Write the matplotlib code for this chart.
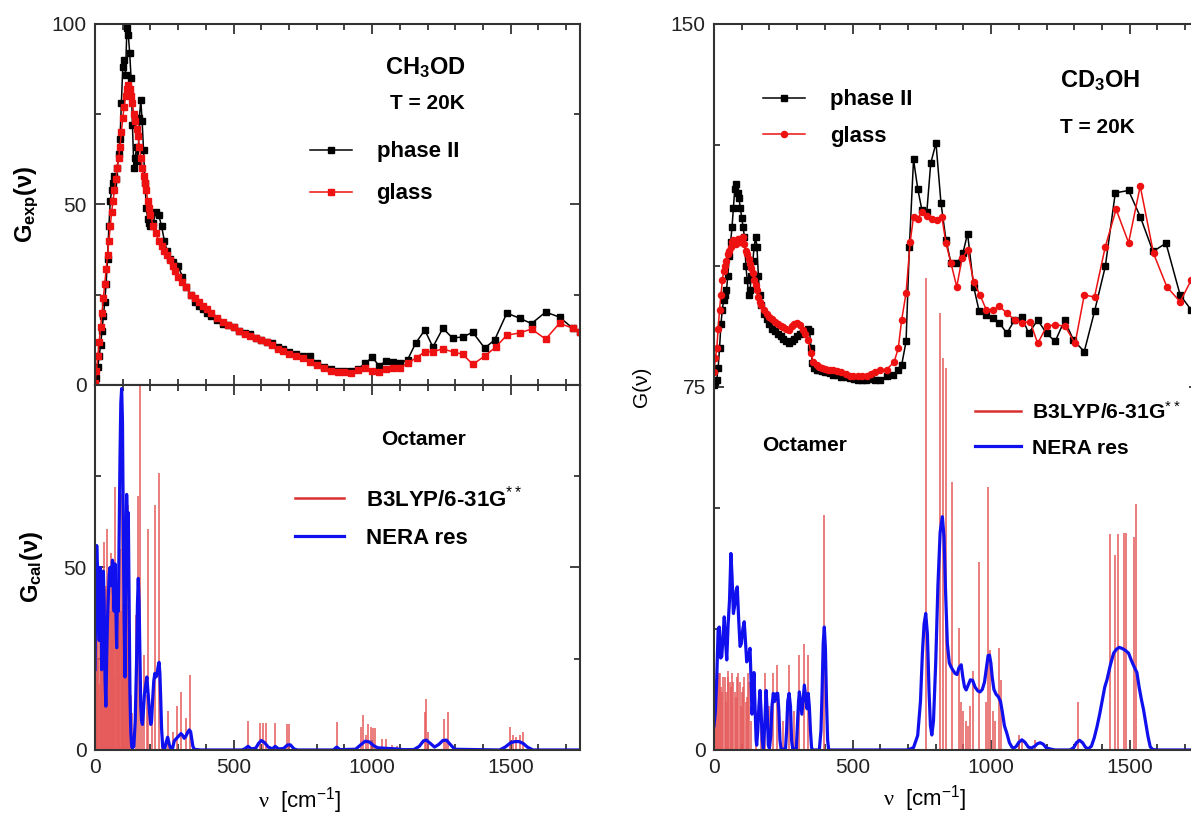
import matplotlib
matplotlib.use("Agg")
import matplotlib.pyplot as plt
from matplotlib.ticker import MultipleLocator, FixedLocator
from matplotlib.lines import Line2D

plt.rcParams['font.family'] = 'Liberation Sans'
plt.rcParams['mathtext.fontset'] = 'custom'
plt.rcParams['mathtext.rm'] = 'Liberation Sans'
plt.rcParams['mathtext.it'] = 'Liberation Sans:italic'
plt.rcParams['mathtext.bf'] = 'Liberation Sans:bold'
plt.rcParams['mathtext.sf'] = 'Liberation Serif'

# ---------------- CH3OD, experimental G(nu) ----------------
CH3OD_NU_PHASE2 = [0, 5, 10, 15, 20, 25, 30, 35, 40, 45, 50, 55, 60, 65, 70, 75, 80, 85, 90, 95,
                   100, 105, 110, 115, 120, 125, 130, 135, 140, 145, 150, 155, 160, 165, 170, 175,
                   180, 185, 190, 195, 200, 210, 220, 230, 240, 250, 260, 270, 280, 290, 300, 315,
                   330, 345, 360, 375, 390, 405, 420, 440, 460, 480, 500, 520, 540, 560, 580, 600,
                   620, 640, 660, 680, 700, 725, 750, 775, 800, 825, 850, 875, 900, 925, 950, 975,
                   1000, 1025, 1050, 1075, 1100, 1128, 1157, 1190, 1219, 1255, 1290, 1327, 1363,
                   1406, 1442, 1486, 1532, 1575, 1626, 1676, 1724, 1750]
CH3OD_G_PHASE2 = [0.5, 2, 5, 8, 11, 15, 19, 23, 28, 35, 44, 51, 54, 56, 58, 57, 60, 64, 68, 78,
                  88, 90, 86, 99, 97, 92, 85, 72, 60, 63, 66, 62, 74, 79, 73, 65,
                  56, 49, 46, 45, 44, 45, 48, 47, 44, 40, 37, 35, 34, 33, 33, 30,
                  27, 25, 23, 22, 21, 20, 19, 18, 17, 16.5, 16, 15, 14.5, 14, 13, 12.5,
                  12, 11.5, 10.5, 10, 9, 8.5, 8, 8, 6, 5, 4.5, 4, 4, 3.8, 4.5, 6,
                  7.7, 5.3, 6.6, 6.4, 6, 7, 11.6, 15.2, 10.5, 15.7, 13, 13.3, 14.6,
                  10.2, 12.5, 19.9, 18.5, 17, 20.2, 18.8, 15.7, 14.7]

CH3OD_NU_GLASS = [0, 5, 10, 15, 20, 25, 30, 35, 40, 45, 50, 55, 60, 65, 70, 75, 80, 85, 90, 95,
                  100, 105, 110, 115, 120, 125, 130, 135, 140, 145, 150, 155, 160, 165, 170, 175,
                  180, 185, 190, 195, 200, 210, 220, 230, 240, 250, 260, 270, 280, 290, 300, 315,
                  330, 345, 360, 375, 390, 405, 420, 440, 460, 480, 500, 520, 540, 560, 580, 600,
                  620, 640, 660, 680, 700, 725, 750, 775, 800, 825, 850, 875, 900, 925, 950, 975,
                  1000, 1025, 1050, 1075, 1100, 1128, 1160, 1190, 1219, 1255, 1294, 1327, 1363,
                  1406, 1446, 1486, 1532, 1575, 1626, 1676, 1724, 1750]
CH3OD_G_GLASS = [0.5, 4, 8, 12, 16, 20, 24, 28, 32, 36, 40, 44, 48, 51, 54, 57, 60, 63, 66, 70,
                 74, 77, 80, 82, 83, 82, 80, 78, 75, 73, 71, 69, 66, 63, 60, 58,
                 56, 54, 51, 49, 47, 44, 42, 40, 38.5, 37, 36, 34.5, 33, 31.5, 30, 28.5,
                 27, 25, 24, 23, 22, 21, 20, 18.5, 17.5, 16.5, 16, 15, 14, 13.5, 13, 12.5,
                 12, 11, 10, 9.5, 8.5, 8, 7.5, 6.5, 5.5, 4.6, 4, 3.7, 3.5, 3.2, 4.2, 4.8,
                 3.9, 3.7, 4.4, 4.8, 4.8, 6, 7.6, 9.2, 9.2, 10, 9.1, 8.5, 5.7,
                 8, 10.5, 13.8, 14.4, 15.5, 12.7, 17.1, 15.7, 14.7]

# ---------------- CH3OD, octamer calculation ----------------
CH3OD_STICK_NU = [3, 5, 8, 10, 12, 14, 17, 20, 22, 24, 26, 28, 31, 34, 36, 38, 40, 42, 44, 47,
                  50, 52, 54, 56, 58, 61, 63, 66, 68, 70, 73, 76, 78, 80, 82, 85, 87, 90, 93, 96,
                  98, 100, 102, 104, 106, 108, 110, 112, 114, 116, 118, 120, 122, 126, 128, 132,
                  148, 154, 162, 170, 176, 186, 192, 205, 216, 231, 240, 263, 280, 295, 311, 328,
                  344, 552, 596, 606, 617, 648, 692, 700, 872, 958, 968, 976, 986, 994, 1003,
                  1012, 1034, 1050, 1070, 1090, 1190, 1196, 1200, 1258, 1268, 1273, 1499, 1509,
                  1520, 1532, 1543]
CH3OD_STICK_G = [30, 20, 42, 35, 25, 18, 50, 32, 28, 38, 40, 22, 57, 30, 15, 44, 45, 33, 60.5, 36,
                 25, 42, 38, 30, 54, 45, 30, 40, 20, 48, 72, 35, 40, 28, 46, 35, 42, 55, 38, 70,
                 30, 30, 40, 45, 25, 52, 35, 69.6, 30, 20, 40, 67, 30, 25, 15, 10,
                 37, 69.6, 105, 10, 26, 15, 60.5, 12, 67, 76, 8, 10.6, 5, 12, 16, 8.7,
                 20.6, 8, 7.3, 7.3, 7.3, 7.3, 7, 7, 7.7, 6.3, 9.5, 4, 7, 6.3, 6,
                 6, 3, 3, 1.5, 1, 10.5, 14.1, 5, 8.4, 3, 10.5, 6.3, 4,
                 3.5, 4, 5]

CH3OD_NU_NERA = [0, 3, 6, 9, 12, 15, 18, 21, 24, 27, 30, 33, 36, 39, 42, 45, 48, 51, 54, 57,
                 60, 63, 66, 69, 72, 75, 78, 81, 84, 87, 90, 93, 96, 99, 102, 105, 108, 111,
                 114, 117, 120, 123, 126, 129, 132, 135, 140, 145, 150, 153, 156, 159, 162, 165,
                 168, 171, 174, 178, 183, 187, 190, 193, 197, 201, 204, 208, 212, 216, 220, 224,
                 228, 231, 234, 237, 240, 244, 247, 252, 256, 262, 268, 274, 280, 286, 292, 298,
                 304, 310, 316, 322, 328, 334, 340, 345, 349, 353, 358, 380, 530, 540, 552, 564,
                 580, 590, 600, 612, 625, 640, 650, 662, 680, 695, 705, 718, 730, 860, 872, 884,
                 940, 960, 975, 990, 1005, 1020, 1040, 1060, 1090, 1110, 1150, 1170, 1185, 1195,
                 1210, 1225, 1240, 1255, 1268, 1282, 1298, 1460, 1480, 1500, 1515, 1530, 1545,
                 1560, 1580, 1750]
CH3OD_G_NERA = [22, 45, 56, 50, 38, 30, 50, 44, 22, 30, 49, 40, 20, 12, 25, 36, 42, 48, 50, 45,
                49, 52, 44, 38, 51, 40, 28, 45, 38, 60, 80, 95, 99, 90, 60, 35, 20, 45,
                70, 60, 65, 40, 15, 5, 1, 0.5, 1, 8, 25, 40, 47, 40, 25, 12,
                8, 7, 10, 15, 18, 20, 17, 14, 10, 7, 8, 14, 19, 21, 20, 21,
                23, 24, 21, 14, 6, 1, 0.3, 0.5, 2, 3.5, 1.5, 0.3, 0.5, 2.5, 3, 3.5,
                4, 4.5, 4, 3.2, 3.8, 4.8, 5.5, 5, 3, 1, 0.2, 0, 0, 0.3, 1.0, 0.3,
                0.5, 1.8, 2.6, 2.0, 0.8, 0.3, 1.0, 0.3, 0.4, 1.4, 1.4, 0.3, 0, 0, 0.8, 0.1,
                0.2, 1.5, 2.4, 2.2, 1.2, 0.6, 0.5, 0.4, 0.3, 0.1, 0.1, 1, 2.5, 2.7,
                1.8, 0.8, 1.5, 2.6, 2.7, 1.5, 0.2, 0, 0.8, 2, 2.3, 2.3, 1.8,
                0.8, 0, 0]

# ---------------- CD3OH, experimental G(nu) ----------------
CD3OH_NU_PHASE2 = [0, 5, 10, 15, 20, 25, 30, 35, 40, 45, 50, 55, 60, 65, 70, 75, 80, 85, 90, 95,
                   100, 105, 110, 115, 120, 125, 130, 135, 140, 145, 150, 155, 160, 165, 170, 180,
                   190, 200, 210, 220, 230, 240, 250, 260, 270, 280, 290, 300, 310, 320, 330, 340,
                   345, 350, 355, 360, 370, 380, 390, 400, 410, 420, 430, 445, 460, 475, 490, 505,
                   520, 535, 550, 565, 580, 599, 623, 647, 665, 677, 693, 705, 720, 735, 750, 768,
                   782, 801, 819, 837, 855, 878, 898, 915, 937, 957, 982, 1006, 1030, 1057, 1084,
                   1111, 1135, 1168, 1200, 1231, 1265, 1297, 1336, 1373, 1412, 1448, 1496, 1538,
                   1584, 1631, 1682, 1722, 1750]
CD3OH_G_PHASE2 = [75.5, 76, 76.5, 79, 83, 88, 91, 93, 94, 95, 98, 102, 105, 108, 112, 116, 117, 115, 114, 112,
                  110, 108, 106, 100, 97, 94, 95, 98, 101, 104, 106, 104, 98, 94, 92, 90,
                  89, 88, 87, 86.5, 86, 85.5, 85, 84.5, 84, 84.5, 85, 85.5, 86, 86.5, 86.5, 87,
                  86.5, 83, 80, 79, 78.6, 78.5, 78.3, 78, 78, 77.8, 77.5, 77.5, 77, 77, 76.8, 76.6,
                  76.5, 76.5, 76.4, 76.6, 76.4, 76.4, 77.2, 77.5, 78.5, 79.5, 84.4, 104, 122, 116, 111.6, 111.2,
                  121.2, 125.4, 113, 105.4, 100.6, 100.6, 102.6, 106.7, 95.7, 90.6, 89.9, 89.2, 88.2, 86.1, 88.8,
                  89.5, 86.1, 88.8, 86.1, 84.4, 88.8, 84.7, 82.3, 90.6, 99.9, 115.1, 115.6, 110.2,
                  103, 104.7, 94, 90.9, 89]

CD3OH_NU_GLASS = [0, 5, 10, 15, 20, 25, 30, 35, 40, 45, 50, 55, 60, 65, 70, 75, 80, 85, 90, 95,
                  100, 105, 110, 115, 120, 125, 130, 135, 140, 145, 150, 155, 160, 165, 170, 180,
                  190, 200, 210, 220, 230, 240, 250, 260, 270, 280, 290, 300, 310, 320, 330, 340,
                  350, 358, 370, 380, 390, 400, 410, 420, 430, 445, 460, 475, 490, 503, 520, 535,
                  551, 565, 580, 599, 623, 650, 665, 677, 693, 708, 720, 735, 750, 768, 786, 804,
                  822, 837, 855, 876, 895, 915, 937, 960, 982, 1008, 1030, 1057, 1087, 1111, 1141,
                  1168, 1200, 1231, 1267, 1303, 1336, 1373, 1412, 1451, 1496, 1538, 1586, 1634,
                  1682, 1722, 1750]
CD3OH_G_GLASS = [78, 81, 83, 87, 91, 94, 97, 99, 100, 101, 102.5, 103, 104, 105, 105.4, 105, 104.5, 105.5, 105.5, 105,
                 105.5, 106, 104.5, 103, 102.5, 101.5, 100.5, 99.5, 98.5, 97, 96, 95, 93.5, 92.5, 92, 91,
                 90, 89.5, 89, 88.5, 88, 87.6, 87.3, 87, 86.8, 87.5, 88, 88.3, 87.8, 86.8, 86, 84.7,
                 82, 80.1, 79.5, 79.2, 79, 78.8, 78.6, 78.6, 78.6, 78.3, 78, 77.6, 77.3, 77.2, 77.2, 77.2,
                 77.2, 77.6, 78, 78.6, 78.6, 80.2, 83, 88.8, 94.4, 105, 110.2, 109.8, 111.2, 110.4, 109.8, 109.5,
                 110.2, 104.7, 100.6, 95.7, 101.6, 103.3, 96.7, 94, 91, 90.9, 91.7, 90.2, 88.8, 88.3, 88.5,
                 84, 87.5, 87.9, 87.5, 84, 94, 93.6, 104, 111.7, 104.8, 116.5, 102.6, 95.7,
                 92.6, 97.1, 100]

# ---------------- CD3OH, octamer calculation ----------------
CD3OH_STICK_NU = [4, 8, 11, 15, 18, 22, 26, 30, 34, 38, 42, 45, 49, 52, 56, 60, 64, 70, 74, 78,
                  83, 88, 92, 97, 101, 106, 110, 115, 119, 124, 128, 135, 150, 168, 184, 200, 214,
                  229, 250, 271, 290, 308, 326, 340, 398, 764, 816, 826, 836, 858, 884, 890, 900,
                  908, 915, 924, 935, 957, 980, 987, 996, 1005, 1015, 1027, 1034, 1100, 1110, 1160,
                  1312, 1430, 1448, 1457, 1478, 1487, 1514, 1523]
CD3OH_STICK_G = [12, 10, 14, 15, 16, 16, 13, 12, 15, 15, 12, 10, 15, 16.3, 14, 13, 16, 14, 12, 11,
                 15, 16, 14, 9, 12, 13, 15, 10, 11, 16, 14, 6, 8, 11, 16, 9, 16,
                 17.6, 6, 17.6, 8, 19.6, 22, 19.6, 48.6, 97.5, 90.3, 81, 79, 55.4, 25.1, 10, 8,
                 6, 5, 9, 16.3, 38.9, 10, 54.4, 20.7, 8, 6, 21, 14.5, 3, 2, 2,
                 10, 44.7, 40.2, 44.7, 44.9, 44.9, 44.1, 50.8]

CD3OH_NU_NERA = [0, 5, 10, 15, 19, 24, 28, 33, 37, 41, 46, 51, 56, 61, 65, 70, 75, 80, 84, 89,
                 94, 99, 104, 109, 113, 118, 123, 130, 134, 137, 140, 144, 148, 152, 154, 158,
                 162, 166, 170, 174, 178, 183, 188, 192, 196, 200, 205, 209, 214, 218, 222, 226,
                 230, 234, 238, 242, 258, 262, 266, 271, 276, 280, 284, 297, 301, 305, 308, 312,
                 317, 321, 326, 331, 336, 340, 344, 348, 352, 356, 380, 386, 390, 394, 398, 402,
                 406, 410, 414, 700, 720, 735, 745, 752, 758, 764, 770, 776, 781, 786, 792, 800,
                 808, 816, 824, 830, 836, 842, 849, 855, 862, 870, 877, 884, 892, 898, 904, 910,
                 918, 925, 933, 942, 952, 960, 968, 976, 983, 989, 994, 999, 1004, 1010, 1018,
                 1026, 1034, 1040, 1048, 1057, 1066, 1075, 1081, 1090, 1100, 1111, 1122, 1134,
                 1145, 1158, 1167, 1177, 1188, 1198, 1207, 1230, 1285, 1298, 1308, 1319, 1330,
                 1340, 1350, 1362, 1372, 1382, 1392, 1402, 1410, 1418, 1430, 1442, 1452, 1462,
                 1472, 1484, 1496, 1506, 1516, 1526, 1534, 1542, 1550, 1558, 1566, 1574, 1582,
                 1600, 1750]
CD3OH_G_NERA = [5, 8, 15, 25, 25.4, 19, 19.3, 24, 27.5, 23, 18.6, 26, 31, 40.6, 36, 28.2, 30, 33, 33.7, 27,
                21.4, 22, 25, 26.5, 23, 18.2, 19, 21, 14, 7.4, 10, 16, 9, 2, 1, 4,
                9, 12.3, 8, 2, 0.3, 5, 12.3, 8, 1, 0.3, 3, 9, 11.7, 10, 10.5, 11.7,
                11.7, 8, 2, 0.2, 0.2, 4, 10, 11.7, 9, 2, 0.2, 0.3, 5, 10, 12, 10,
                7.4, 10, 13.4, 11, 8.5, 11.7, 9, 4, 0.5, 0, 0, 4, 12, 22, 25.4, 21,
                10, 2, 0, 0, 0.5, 3, 10, 20, 26, 28.2, 24, 12, 5, 3.1, 6, 18,
                34, 45, 48.2, 44, 32, 22, 18, 17.2, 16.5, 15.8, 15.6, 17, 17.6, 15, 13, 12.4,
                13.5, 14.5, 14.4, 13, 12.2, 12, 12.5, 14, 17, 19.5, 19.6, 18, 15, 12.5, 11.5,
                11, 10, 8, 5, 3.4, 1.5, 0.6, 0.4, 0.7, 1.6, 2.1, 1.6, 0.6,
                0.4, 0.8, 1.3, 1.5, 1.2, 0.5, 0.3, 0, 0, 0.5, 1.5, 2.0, 1.5,
                0.6, 0.2, 0.8, 2.5, 4.8, 7.5, 10.5, 13, 14.5, 17.5, 20, 20.8, 21.2,
                21, 20.6, 20, 18.5, 17.2, 16, 13, 10.5, 8.3, 5.5, 2.8, 0.7, 0.1,
                0, 0]

NU_TICKS = [0, 500, 1000, 1500]

STICK_COLOR = '#e65a5a'
EXP_RED = '#ee1111'
NERA_BLUE = '#1010ee'
BOLD = {'weight': 'bold'}


def styleAxes(ax, yMajor, yMinor):
    ax.set_xlim(0, 1750)
    ax.xaxis.set_major_locator(FixedLocator(NU_TICKS))
    ax.xaxis.set_minor_locator(MultipleLocator(100))
    ax.yaxis.set_major_locator(FixedLocator(yMajor))
    ax.yaxis.set_minor_locator(FixedLocator(yMinor))
    ax.tick_params(which='both', direction='in', top=True, right=True, width=1.2,
                   labelsize=15, colors='#222222')
    ax.tick_params(which='major', length=7, pad=6)
    ax.tick_params(which='minor', length=4)
    for spine in ax.spines.values():
        spine.set_linewidth(1.5)
        spine.set_color('#333333')


def drawCalc(ax, stickNu, stickG, neraNu, neraG):
    ax.vlines(stickNu, 0, stickG, colors=STICK_COLOR, lw=1.1)
    ax.plot(neraNu, neraG, color=NERA_BLUE, lw=2.3)


def calcLegend(ax, anchor, textpad, size):
    handles = [Line2D([], [], color='#d83030', lw=1.8),
               Line2D([], [], color=NERA_BLUE, lw=2.3)]
    ax.legend(handles, ['B3LYP/6-31G$^{**}$', 'NERA res'], loc='upper left',
              bbox_to_anchor=anchor, frameon=False, prop={'size': size, 'weight': 'bold'},
              borderpad=0, borderaxespad=0, handlelength=2.2, handletextpad=textpad,
              labelspacing=0.75)


fig = plt.figure(figsize=(11.91, 8.21), dpi=100)

# left column: CH3OD
axTop = fig.add_axes([0.0798, 0.5311, 0.4072, 0.4397])
axBot = fig.add_axes([0.0798, 0.0865, 0.4072, 0.4446])
# right column: CD3OH, runs past the figure edge
axRight = fig.add_axes([0.5995, 0.0865, 0.4072, 0.8843])

ph2, = axTop.plot(CH3OD_NU_PHASE2, CH3OD_G_PHASE2, color='black', lw=1.1,
                  marker='s', ms=4.2, mec='black', mfc='black')
gl, = axTop.plot(CH3OD_NU_GLASS, CH3OD_G_GLASS, color=EXP_RED, lw=1.1,
                 marker='s', ms=4.2, mec=EXP_RED, mfc=EXP_RED)
axTop.set_ylim(0, 100)
styleAxes(axTop, [0, 50, 100], [25, 75])
axTop.tick_params(labelbottom=False)
axTop.set_ylabel(r'$\mathbf{G_{exp}(\nu)}$', fontsize=17)
axTop.yaxis.set_label_coords(-0.112, 0.5)
axTop.text(1193, 88, r'$\mathbf{CH_3OD}$', fontsize=17, ha='center', va='center')
axTop.text(1200, 78, 'T = 20K', fontsize=15, ha='center', va='center', fontdict=BOLD)
axTop.legend([ph2, gl], ['phase II', 'glass'], loc='upper left', bbox_to_anchor=(0.443, 0.675),
             frameon=False, prop={'size': 16, 'weight': 'bold'}, numpoints=1,
             borderpad=0, borderaxespad=0, handlelength=1.9, handletextpad=1.1,
             labelspacing=0.95)

drawCalc(axBot, CH3OD_STICK_NU, CH3OD_STICK_G, CH3OD_NU_NERA, CH3OD_G_NERA)
axBot.set_ylim(0, 100)
styleAxes(axBot, [0, 50], [25, 75])
axBot.set_ylabel(r'$\mathbf{G_{cal}(\nu)}$', fontsize=17)
axBot.yaxis.set_label_coords(-0.104, 0.5)
axBot.set_xlabel(r'$\mathsf{\nu}$  [cm$^{-1}$]', fontsize=16)
axBot.xaxis.set_label_coords(0.423, -0.095)
axBot.text(1186, 85, 'Octamer', fontsize=15, ha='center', va='center', fontdict=BOLD)
calcLegend(axBot, (0.412, 0.725), 1.0, 16)

# right panel: experiment (upper half) and calculation (lower half) share one axis
drawCalc(axRight, CD3OH_STICK_NU, CD3OH_STICK_G, CD3OH_NU_NERA, CD3OH_G_NERA)
rPh2, = axRight.plot(CD3OH_NU_PHASE2, CD3OH_G_PHASE2, color='black', lw=1.1,
                     marker='s', ms=4.2, mec='black', mfc='black')
rGl, = axRight.plot(CD3OH_NU_GLASS, CD3OH_G_GLASS, color=EXP_RED, lw=1.1,
                    marker='o', ms=4.4, mec=EXP_RED, mfc=EXP_RED)
axRight.set_ylim(0, 150)
styleAxes(axRight, [0, 75, 150], [25, 50, 100, 125])
axRight.set_ylabel('G(ν)', fontsize=15)
axRight.yaxis.set_label_coords(-0.13, 0.5)
axRight.set_xlabel(r'$\mathsf{\nu}$  [cm$^{-1}$]', fontsize=16)
axRight.xaxis.set_label_coords(0.435, -0.045)
axRight.text(1393, 138.4, r'$\mathbf{CD_3OH}$', fontsize=17, ha='center', va='center')
axRight.text(1383, 128.7, 'T = 20K', fontsize=15, ha='center', va='center', fontdict=BOLD)
axRight.text(328, 63, 'Octamer', fontsize=15, ha='center', va='center', fontdict=BOLD)

legExp = axRight.legend([rPh2, rGl], ['phase II', 'glass'], loc='upper left',
                        bbox_to_anchor=(0.101, 0.91), frameon=False,
                        prop={'size': 16, 'weight': 'bold'}, numpoints=1, borderpad=0,
                        borderaxespad=0, handlelength=1.9, handletextpad=1.1, labelspacing=0.7)
axRight.add_artist(legExp)
calcLegend(axRight, (0.538, 0.481), 0.5, 15.2)

fig.savefig('out.png', dpi=100)
